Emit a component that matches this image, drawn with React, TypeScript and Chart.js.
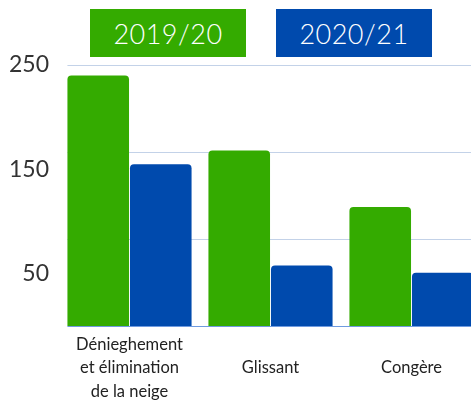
import React, { useEffect, useRef } from "react";
import { Chart, registerables } from "chart.js";

Chart.register(...registerables);

const categories: string[][] = [
  ["Dénieghement", "et élimination", "de la neige"],
  ["", "Glissant"],
  ["", "Congère"],
];
const seriesLabels = ["2019/20", "2020/21"];
const series2019 = [240, 168, 114];
const series2020 = [155, 58, 51];
const tickLabelValues = [50, 150, 250];
const gridValues = [250 / 3, 500 / 3, 250];
const colors = ["#34ab00", "#004aad"];

const gridPlugin = {
  id: "customGrid",
  beforeDatasetsDraw(chart: any) {
    const { ctx, chartArea, scales } = chart;
    const meta = chart.getDatasetMeta(0);
    const first = meta.data[0];
    const left = first.x - first.width / 2;
    const right = chartArea.right;
    ctx.save();
    ctx.lineWidth = 1;
    gridValues.forEach((v) => {
      const y = Math.round(scales.y.getPixelForValue(v)) + 0.5;
      ctx.strokeStyle = "#c3d2e8";
      ctx.beginPath();
      ctx.moveTo(left, y);
      ctx.lineTo(right, y);
      ctx.stroke();
    });
    const y0 = Math.round(scales.y.getPixelForValue(0)) + 0.5;
    ctx.strokeStyle = "#6f9be0";
    ctx.beginPath();
    ctx.moveTo(left, y0);
    ctx.lineTo(right, y0);
    ctx.stroke();
    ctx.restore();
  },
};

export default function App() {
  const ref = useRef<HTMLCanvasElement>(null);
  useEffect(() => {
    if (!ref.current) return;
    const chart = new Chart(ref.current, {
      type: "bar",
      data: {
        labels: categories,
        datasets: [
          {
            label: seriesLabels[0],
            data: series2019,
            backgroundColor: colors[0],
            borderRadius: 4,
            categoryPercentage: 0.887,
            barPercentage: 0.985,
          },
          {
            label: seriesLabels[1],
            data: series2020,
            backgroundColor: colors[1],
            borderRadius: 4,
            categoryPercentage: 0.887,
            barPercentage: 0.985,
          },
        ],
      },
      plugins: [gridPlugin],
      options: {
        animation: false,
        responsive: false,
        devicePixelRatio: 1,
        layout: { padding: { top: 65, right: 8, left: 0, bottom: 0 } },
        plugins: { legend: { display: false }, tooltip: { enabled: false } },
        scales: {
          x: {
            grid: { display: false, drawTicks: false },
            border: { display: false },
            ticks: {
              padding: 7,
              color: "#222",
              font: { family: "Lato", size: 16.5, lineHeight: 1.42 },
              maxRotation: 0,
              autoSkip: false,
            },
            afterFit: (s: any) => {
              s.height = 76;
            },
          },
          y: {
            min: 0,
            max: 250,
            border: { display: false },
            afterBuildTicks: (s: any) => {
              s.ticks = tickLabelValues.map((v) => ({ value: v }));
            },
            afterFit: (s: any) => {
              s.width = 59;
            },
            grid: { display: false, drawTicks: false },
            ticks: {
              padding: 10,
              color: "#333",
              font: { family: "Lato", size: 23, weight: "normal" },
              callback: (v: any) => String(v),
            },
          },
        },
      },
    });
    return () => chart.destroy();
  }, []);

  const legendBox = (i: number, left: number) => (
    <div
      key={i}
      style={{
        position: "absolute",
        left,
        top: 9,
        width: 156,
        height: 48,
        background: colors[i],
        color: "#fff",
        fontFamily: "Lato, sans-serif",
        fontWeight: 300,
        fontSize: 27,
        display: "flex",
        alignItems: "center",
        justifyContent: "center",
        letterSpacing: 0.5,
      }}
    >
      {seriesLabels[i]}
    </div>
  );

  return (
    <div
      style={{
        position: "fixed",
        left: 0,
        top: 0,
        width: 471,
        height: 402,
        overflow: "hidden",
        background: "#fff",
      }}
    >
      <canvas ref={ref} width={490} height={402} style={{ position: "absolute", left: 0, top: 0 }} />
      {legendBox(0, 90)}
      {legendBox(1, 276)}
    </div>
  );
}
